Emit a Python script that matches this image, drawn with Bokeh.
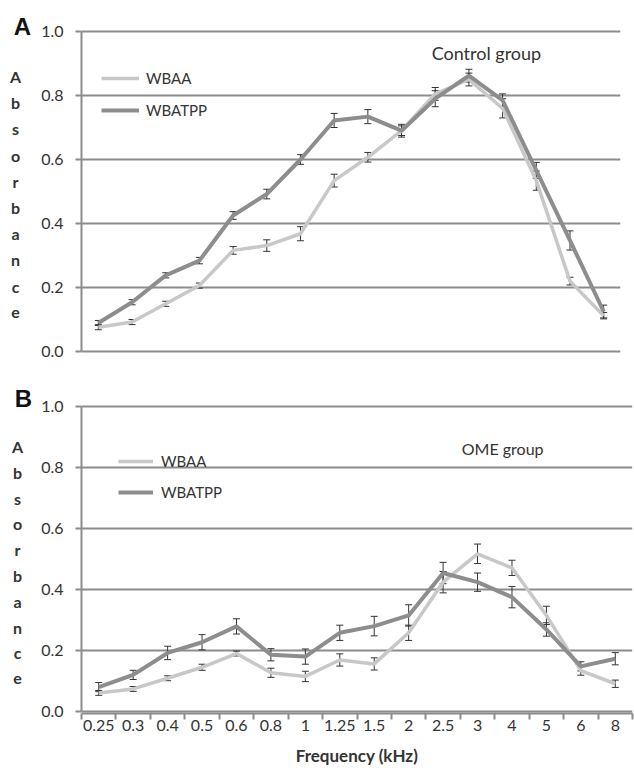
import numpy as np
from bokeh.plotting import figure
from bokeh.layouts import column, row
from bokeh.models import (ColumnDataSource, Range1d, FixedTicker, Whisker, TeeHead,
                          Label, Legend, LegendItem, PrintfTickFormatter)
from bokeh.core.properties import value
from bokeh.embed import file_html
from bokeh.resources import INLINE

freq_labels = ["0.25", "0.3", "0.4", "0.5", "0.6", "0.8", "1", "1.25", "1.5", "2",
               "2.5", "3", "4", "5", "6", "8"]

ctrl_wbaa = [0.076, 0.092, 0.149, 0.206, 0.316, 0.331, 0.368, 0.534, 0.607, 0.69,
             0.805, 0.85, 0.76, 0.534, 0.22, 0.112]
ctrl_wbaa_err = [0.008, 0.008, 0.008, 0.008, 0.012, 0.018, 0.022, 0.02, 0.015, 0.015,
                 0.02, 0.02, 0.03, 0.03, 0.012, 0.01]
ctrl_wbatpp = [0.089, 0.154, 0.238, 0.284, 0.425, 0.492, 0.6, 0.722, 0.734, 0.69,
               0.79, 0.862, 0.785, 0.566, 0.347, 0.125]
ctrl_wbatpp_err = [0.008, 0.008, 0.008, 0.01, 0.012, 0.015, 0.015, 0.022, 0.022, 0.02,
                   0.025, 0.02, 0.02, 0.025, 0.03, 0.02]

ome_wbaa = [0.061, 0.074, 0.109, 0.145, 0.19, 0.127, 0.115, 0.169, 0.156, 0.258,
            0.424, 0.517, 0.471, 0.315, 0.134, 0.091]
ome_wbaa_err = [0.008, 0.008, 0.008, 0.01, 0.008, 0.015, 0.017, 0.02, 0.02, 0.025,
                0.035, 0.032, 0.025, 0.03, 0.015, 0.012]
ome_wbatpp = [0.08, 0.12, 0.192, 0.227, 0.279, 0.186, 0.18, 0.258, 0.28, 0.315,
              0.454, 0.424, 0.375, 0.269, 0.148, 0.173]
ome_wbatpp_err = [0.015, 0.015, 0.022, 0.025, 0.025, 0.02, 0.025, 0.025, 0.032, 0.035,
                  0.035, 0.03, 0.035, 0.022, 0.015, 0.02]

y_ticks = [0.0, 0.2, 0.4, 0.6, 0.8, 1.0]
series_names = ["WBAA", "WBATPP"]
ylabel_letters = list("Absorbance")
panel_letters = ["A", "B"]
group_titles = ["Control group", "OME group"]

LIGHT = "#c8c8c8"
DARK = "#8d8d8d"
GRID = "#8c8c8c"
TXT = "#333333"
FONT = "Lato"
SIDE_W = 38
MAIN_W = 634 - SIDE_W

x = np.arange(1, len(freq_labels) + 1)


def make_side(height, frame_h, letter, letter_xy, abs_x, abs_y0, abs_step):
    s = figure(width=SIDE_W, height=height, output_backend="svg", toolbar_location=None,
               title=None, x_range=Range1d(0, SIDE_W), y_range=Range1d(frame_h, 0),
               x_axis_location=None, y_axis_location=None,
               min_border_left=0, min_border_right=0,
               min_border_top=0, min_border_bottom=height - frame_h)
    s.outline_line_color = None
    s.grid.visible = False
    s.text(x=[letter_xy[0]], y=[letter_xy[1]], text=[letter], text_align="center",
           text_baseline="middle", text_font=value("Liberation Sans"),
           text_font_style="bold", text_font_size="24px", text_color="#111111")
    ys = abs_y0 + abs_step * np.arange(len(ylabel_letters))
    s.text(x=[abs_x] * len(ylabel_letters), y=ys, text=ylabel_letters, text_align="center",
           text_baseline="middle", text_font=value(FONT), text_font_style="bold",
           text_font_size="16px", text_color=TXT)
    return s


def make_panel(height, border_left, frame_w, frame_h, y_one_px, px_per_unit,
               wbaa, wbaa_err, wbatpp, wbatpp_err, show_x):
    y_top = 1.0 + y_one_px / px_per_unit
    y_bot = 1.0 - (frame_h - y_one_px) / px_per_unit
    p = figure(width=MAIN_W, height=height, output_backend="svg", toolbar_location=None,
               title=None,
               x_range=Range1d(0.5, len(freq_labels) + 0.5), y_range=Range1d(y_bot, y_top),
               min_border_left=border_left, min_border_right=MAIN_W - border_left - frame_w,
               min_border_top=0, min_border_bottom=height - frame_h)
    p.outline_line_color = None
    p.xgrid.visible = False
    p.ygrid.ticker = FixedTicker(ticks=y_ticks)
    p.ygrid.grid_line_color = GRID
    p.ygrid.grid_line_width = 2

    ya = p.yaxis[0]
    ya.ticker = FixedTicker(ticks=y_ticks)
    ya.formatter = PrintfTickFormatter(format="%.1f")
    ya.bounds = (0, 1)
    ya.axis_line_color = GRID
    ya.axis_line_width = 2
    ya.major_tick_line_color = GRID
    ya.major_tick_line_width = 2
    ya.major_tick_out = 6
    ya.major_tick_in = 0
    ya.minor_tick_line_color = None
    ya.major_label_text_font = FONT
    ya.major_label_text_font_size = "16px"
    ya.major_label_text_color = TXT
    ya.major_label_standoff = 12

    xa = p.xaxis[0]
    if show_x:
        xa.ticker = FixedTicker(ticks=list(x), minor_ticks=list(np.arange(0.5, len(x) + 1, 1.0)))
        xa.major_label_overrides = {int(i): lab for i, lab in zip(x, freq_labels)}
        xa.major_tick_line_color = None
        xa.major_tick_out = 0
        xa.major_tick_in = 0
        xa.minor_tick_line_color = GRID
        xa.minor_tick_line_width = 2
        xa.minor_tick_out = 6
        xa.minor_tick_in = 0
        xa.axis_line_color = GRID
        xa.axis_line_width = 2
        xa.major_label_text_font = FONT
        xa.major_label_text_font_size = "16px"
        xa.major_label_text_color = TXT
        xa.major_label_standoff = 0
        xa.axis_label = "Frequency (kHz)"
        xa.axis_label_text_font = FONT
        xa.axis_label_text_font_style = "bold"
        xa.axis_label_text_font_size = "17px"
        xa.axis_label_text_color = TXT
        xa.axis_label_standoff = 11
    else:
        xa.visible = False

    r1 = p.line(x, wbaa, line_color=LIGHT, line_width=3.5)
    r2 = p.line(x, wbatpp, line_color=DARK, line_width=4)

    for vals, errs in ((wbaa, wbaa_err), (wbatpp, wbatpp_err)):
        v = np.array(vals)
        e = np.array(errs)
        src = ColumnDataSource(dict(x=x, upper=v + e, lower=v - e))
        w = Whisker(source=src, base="x", upper="upper", lower="lower",
                    line_color="#333333", line_width=1,
                    upper_head=TeeHead(size=7, line_color="#333333", line_width=1),
                    lower_head=TeeHead(size=7, line_color="#333333", line_width=1))
        p.add_layout(w)
    return p, r1, r2


def add_legend(p, r1, r2, loc, spacing, glyph_w, standoff):
    leg = Legend(items=[LegendItem(label=series_names[0], renderers=[r1]),
                        LegendItem(label=series_names[1], renderers=[r2])],
                 location=loc, padding=0, margin=0, spacing=spacing,
                 glyph_width=glyph_w, glyph_height=20, label_height=20,
                 label_standoff=standoff,
                 label_text_font=FONT, label_text_font_size="15px", label_text_color=TXT,
                 border_line_color=None, background_fill_alpha=0)
    p.add_layout(leg)


# ---- Panel A ----
HA = 378
FA = 353
pA, a1, a2 = make_panel(HA, 77 - SIDE_W, 543, FA, 31, 320.0, ctrl_wbaa, ctrl_wbaa_err,
                        ctrl_wbatpp, ctrl_wbatpp_err, False)
add_legend(pA, a1, a2, (20, 233), 12, 38, 7)
pA.add_layout(Label(x=12.52, y=0.934, text=group_titles[0], text_align="center",
                    text_baseline="middle", text_font=FONT, text_font_size="18px",
                    text_color=TXT))
sA = make_side(HA, FA, panel_letters[0], (22, 26), 15, 76, 26.2)

# ---- Panel B ----
HB = 770 - HA
FB = 335
pB, b1, b2 = make_panel(HB, 80 - SIDE_W, 552, FB, 28, 305.0, ome_wbaa, ome_wbaa_err,
                        ome_wbatpp, ome_wbatpp_err, True)
add_legend(pB, b1, b2, (37, 211), 11, 35, 8)
pB.add_layout(Label(x=12.73, y=0.862, text=group_titles[1], text_align="center",
                    text_baseline="middle", text_font=FONT, text_font_size="16px",
                    text_color=TXT))
sB = make_side(HB, FB, panel_letters[1], (23, 20), 17, 68, 25.8)

layout = column(row(sA, pA, spacing=0), row(sB, pB, spacing=0), spacing=0)
open("out.html", "w").write(file_html(layout, INLINE))
